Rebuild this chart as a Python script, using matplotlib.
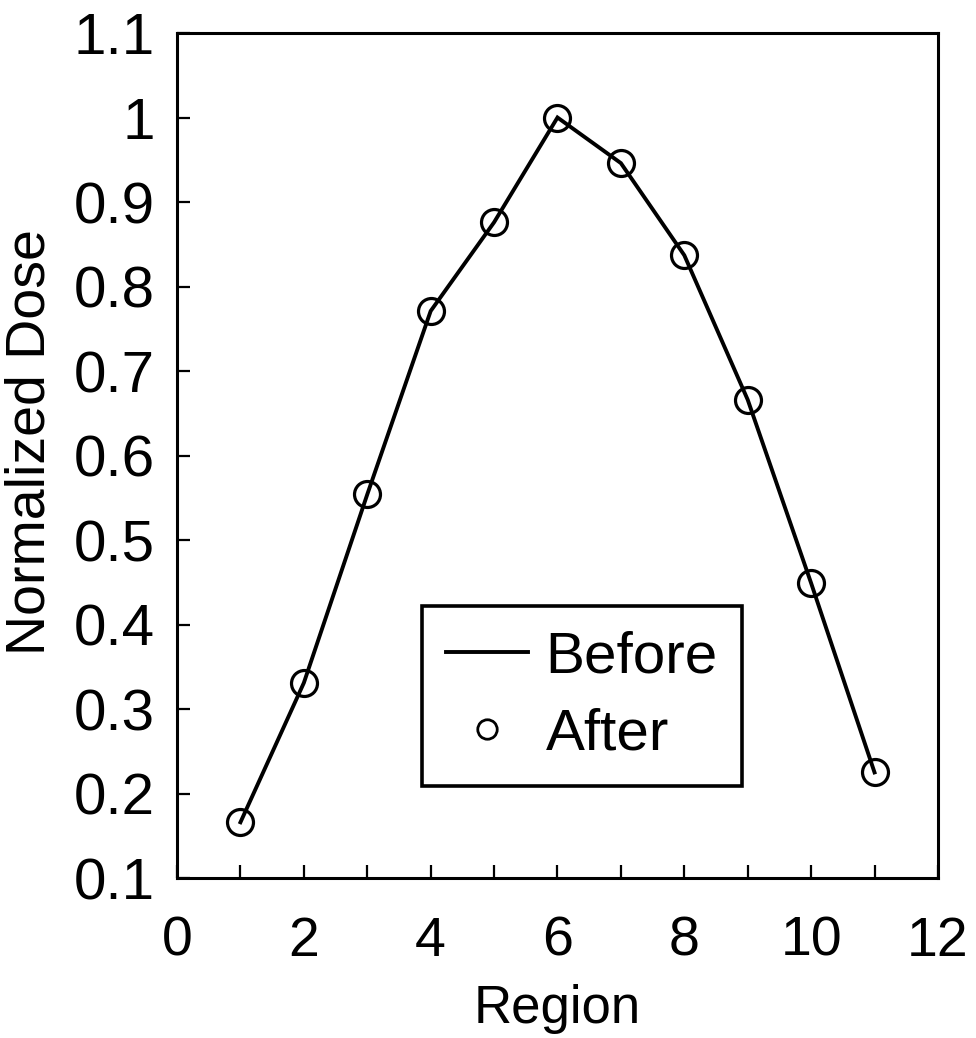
import matplotlib
matplotlib.use("Agg")
import matplotlib.pyplot as plt
from matplotlib.lines import Line2D

plt.rcParams['font.family'] = ['Liberation Sans', 'DejaVu Sans']

regions = [1, 2, 3, 4, 5, 6, 7, 8, 9, 10, 11]
before = [0.166, 0.331, 0.554, 0.771, 0.876, 1.0, 0.946, 0.837, 0.666, 0.449, 0.225]
after = [0.166, 0.331, 0.554, 0.771, 0.876, 1.0, 0.946, 0.837, 0.666, 0.449, 0.225]
xticks = [0, 2, 4, 6, 8, 10, 12]
yticks = [0.1, 0.2, 0.3, 0.4, 0.5, 0.6, 0.7, 0.8, 0.9, 1.0, 1.1]
yticklabels = ['0.1', '0.2', '0.3', '0.4', '0.5', '0.6', '0.7', '0.8', '0.9', '1', '1.1']

fig = plt.figure(figsize=(9.76, 10.38), dpi=100)
ax = fig.add_axes([0.1814, 0.1541, 0.9610 - 0.1814, 0.9682 - 0.1541])

ax.plot(regions, before, color='black', lw=2.8, solid_joinstyle='miter', zorder=2)
ax.plot(regions, after, linestyle='none', marker='o', markersize=18.7,
        markerfacecolor='none', markeredgecolor='black', markeredgewidth=2.3, zorder=3)

ax.set_xlim(0, 12)
ax.set_ylim(0.1, 1.1)
ax.set_xticks(xticks)
ax.set_xticks(range(0, 13), minor=True)
ax.set_yticks(yticks)
ax.set_yticklabels(yticklabels)
ax.tick_params(axis='both', which='both', direction='in', top=False, right=False,
               width=1.6, length=9.5)
ax.tick_params(axis='y', which='major', labelsize=42, pad=16)
ax.tick_params(axis='x', which='major', labelsize=40, pad=27)
for s in ax.spines.values():
    s.set_linewidth(2.2)

ax.set_xlabel('Region', fontsize=38, labelpad=12)
ax.set_ylabel('Normalized Dose', fontsize=40)
ax.yaxis.set_label_coords(-0.158, 0.516)

handles = [Line2D([], [], color='black', lw=2.8),
           Line2D([], [], linestyle='none', marker='o', markersize=14,
                  markerfacecolor='none', markeredgecolor='black', markeredgewidth=2.0)]
leg = ax.legend(handles, ['Before', 'After'], loc='upper left',
                bbox_to_anchor=(3.86, 0.422), bbox_transform=ax.transData,
                fontsize=42, frameon=True, fancybox=False, edgecolor='black',
                handlelength=1.4, handletextpad=0.3, borderpad=0.42, labelspacing=0.4,
                borderaxespad=0, framealpha=1)
leg.get_frame().set_linewidth(2.6)

fig.savefig('out.png', dpi=100)
